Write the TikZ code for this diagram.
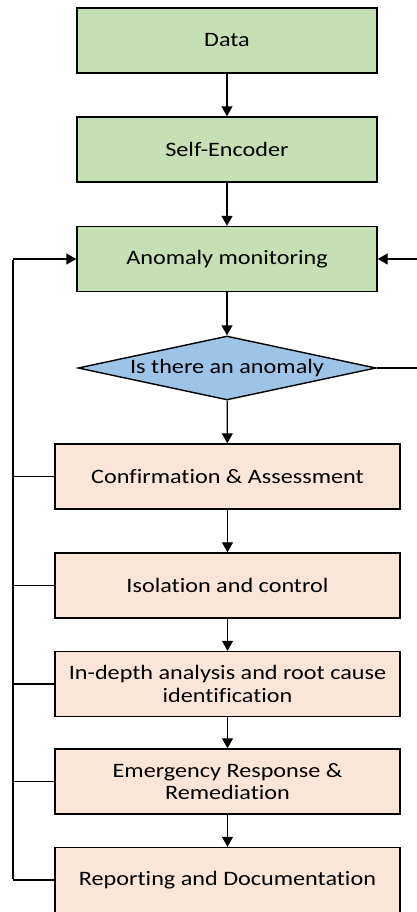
\documentclass[tikz,border=0pt]{standalone}
\usepackage{fontspec}
\setmainfont{Carlito}[FakeStretch=1.18,Ligatures=NoCommon]
\usetikzlibrary{shapes.geometric,arrows.meta}
\definecolor{boxgreen}{HTML}{C5E0B4}
\definecolor{boxblue}{HTML}{9DC3E6}
\definecolor{boxpeach}{HTML}{FBE5D6}
\begin{document}
\begin{tikzpicture}[x=1pt,y=-1pt,
  every node/.style={font=\fontsize{20.5}{22.5}\selectfont, text=black},
  greenbox/.style={draw=black, line width=1.4pt, fill=boxgreen, rectangle, minimum width=300pt, minimum height=65pt, inner sep=0pt},
  peachbox/.style={draw=black, line width=1.4pt, fill=boxpeach, rectangle, minimum width=345pt, minimum height=65pt, inner sep=0pt, align=center},
  decbox/.style={draw=black, line width=1.4pt, fill=boxblue, diamond, minimum width=298pt, minimum height=64pt, inner sep=0pt},
  arr/.style={draw=black, line width=1.2pt, -{Triangle[width=11pt,length=10pt]}},
  ln/.style={draw=black, line width=1.2pt},
  thickln/.style={draw=black, line width=2.2pt}
]
\useasboundingbox (0,0) rectangle (417,912);
\clip (0,0) rectangle (417,912);
\node[greenbox] (data) at (227,40.5) {Data};
\node[greenbox] (enc) at (227,149.5) {Self-Encoder};
\node[greenbox] (mon) at (227,259) {Anomaly monitoring};
\node[decbox] (dia) at (227,368) {};
\node (diatext) at (227,368) {Is there an anomaly};
\node[peachbox] (conf) at (227.5,476.5) {Confirmation \& Assessment};
\node[peachbox] (iso) at (227.5,585.5) {Isolation and control};
\node[peachbox] (depth) at (227.5,684) {In-depth analysis and root cause\\identification};
\node[peachbox] (emer) at (227.5,781.5) {Emergency Response \&\\Remediation};
\node[peachbox] (rep) at (227.5,880) {Reporting and Documentation};

\draw[arr] (data) -- (enc);
\draw[arr] (enc) -- (mon);
\draw[arr] (mon) -- (dia);
\draw[arr] (dia) -- (conf);
\draw[arr] (conf) -- (iso);
\draw[arr] (iso) -- (depth);
\draw[arr] (depth) -- (emer);
\draw[arr] (emer) -- (rep);

% left feedback loop
\coordinate (lb) at (13,880);
\coordinate (lt) at (13,259);
\draw[ln] (rep.west) -- (lb);
\draw[ln] (conf.west) -- (conf.west -| lb);
\draw[ln] (iso.west) -- (iso.west -| lb);
\draw[ln] (depth.west) -- (depth.west -| lb);
\draw[ln] (emer.west) -- (emer.west -| lb);
\draw[thickln] ([yshift=0.6pt]lb) -- ([yshift=-0.6pt]lt);
\draw[arr] (lt) -- (mon.west);

% right feedback loop
\coordinate (rb) at (422,368);
\coordinate (rt) at (422,259);
\draw[ln] (dia.east) -- (rb) -- (rt);
\draw[arr] (rt) -- (mon.east);
\end{tikzpicture}
\end{document}
